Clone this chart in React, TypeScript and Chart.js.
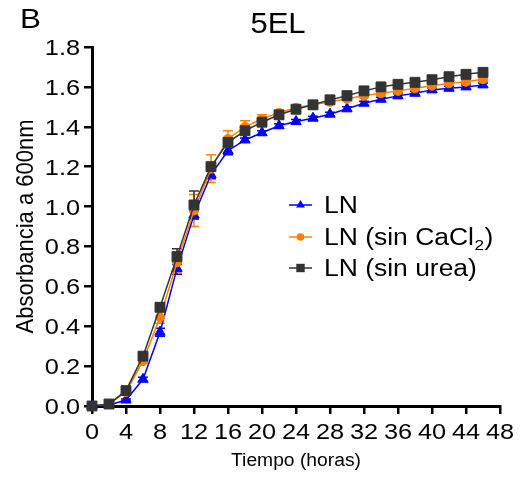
import React, { useEffect, useRef } from 'react';
import { Chart, registerables } from 'chart.js';

Chart.register(...registerables);

const hours = [0, 2, 4, 6, 8, 10, 12, 14, 16, 18, 20, 22, 24, 26, 28, 30, 32, 34, 36, 38, 40, 42, 44, 46];

const lnValues = [0.0, 0.005, 0.03, 0.134, 0.37, 0.69, 0.958, 1.16, 1.28, 1.334, 1.37, 1.405, 1.426, 1.443, 1.463, 1.49, 1.518, 1.538, 1.555, 1.568, 1.585, 1.593, 1.6, 1.61];
const lnErrors = [0.005, 0.005, 0.005, 0.01, 0.02, 0.03, 0.02, 0.02, 0.02, 0.01, 0.01, 0.01, 0.01, 0.01, 0.01, 0.01, 0.01, 0.01, 0.01, 0.01, 0.01, 0.01, 0.01, 0.01];

const caValues = [0.0, 0.01, 0.07, 0.225, 0.445, 0.72, 0.98, 1.19, 1.34, 1.4, 1.44, 1.47, 1.495, 1.51, 1.525, 1.54, 1.555, 1.568, 1.58, 1.593, 1.606, 1.618, 1.626, 1.638];
const caErrors = [0.005, 0.005, 0.01, 0.01, 0.03, 0.05, 0.08, 0.07, 0.04, 0.03, 0.02, 0.01, 0.01, 0.01, 0.01, 0.01, 0.01, 0.01, 0.01, 0.01, 0.01, 0.01, 0.01, 0.01];

const ureaValues = [0.0, 0.01, 0.077, 0.25, 0.495, 0.749, 1.008, 1.2, 1.322, 1.38, 1.423, 1.46, 1.488, 1.51, 1.535, 1.556, 1.58, 1.6, 1.613, 1.623, 1.636, 1.651, 1.663, 1.673];
const ureaErrors = [0.005, 0.005, 0.01, 0.01, 0.02, 0.04, 0.07, 0.02, 0.02, 0.01, 0.01, 0.01, 0.01, 0.01, 0.01, 0.01, 0.01, 0.01, 0.01, 0.01, 0.01, 0.01, 0.01, 0.01];

const xTickValues = [0, 4, 8, 12, 16, 20, 24, 28, 32, 36, 40, 44, 48];
const yTickValues = [0, 0.2, 0.4, 0.6, 0.8, 1.0, 1.2, 1.4, 1.6, 1.8];
const xTickLabels = xTickValues.map((v) => String(v));
const yTickLabels = yTickValues.map((v) => v.toFixed(1));

const panelLetter = 'B';
const chartTitle = '5EL';
const xTitle = 'Tiempo (horas)';
const yTitle = 'Absorbancia a 600nm';

const FONT = '"Liberation Sans", Arial, Helvetica, sans-serif';
const BLUE = '#0000ff';
const ORANGE = '#ff8000';
const DARK = '#333333';
const STRETCH = 1.15;

const seriesList = [
  { label: 'LN', values: lnValues, errors: lnErrors, color: BLUE, style: 'triangle', radius: 6, order: 2 },
  { label: 'LN (sin CaCl2)', values: caValues, errors: caErrors, color: ORANGE, style: 'circle', radius: 4.5, order: 1 },
  { label: 'LN (sin urea)', values: ureaValues, errors: ureaErrors, color: DARK, style: 'rect', radius: 7, order: 0 },
];

const errorBarPlugin = {
  id: 'errorBars',
  beforeDatasetsDraw(chart: any) {
    const ctx = chart.ctx;
    const xs = chart.scales.x;
    const ys = chart.scales.y;
    ctx.save();
    [...chart.data.datasets]
      .sort((a: any, b: any) => b.order - a.order)
      .forEach((d: any) => {
        const errs: number[] = d.errorValues || [];
        ctx.strokeStyle = d.borderColor;
        ctx.lineWidth = 1.5;
        d.data.forEach((pt: any, k: number) => {
          const e = errs[k] || 0;
          if (!e) return;
          const px = xs.getPixelForValue(pt.x);
          const top = ys.getPixelForValue(pt.y + e);
          const bot = ys.getPixelForValue(Math.max(0, pt.y - e));
          ctx.beginPath();
          ctx.moveTo(px, top);
          ctx.lineTo(px, bot);
          ctx.moveTo(px - 5, top);
          ctx.lineTo(px + 5, top);
          ctx.moveTo(px - 5, bot);
          ctx.lineTo(px + 5, bot);
          ctx.stroke();
        });
      });
    ctx.restore();
  },
};

function drawMarker(ctx: CanvasRenderingContext2D, style: string, x: number, y: number, r: number, color: string) {
  ctx.fillStyle = color;
  ctx.beginPath();
  if (style === 'triangle') {
    ctx.moveTo(x, y - r);
    ctx.lineTo(x + r * Math.sin(Math.PI / 3), y + r * 0.5);
    ctx.lineTo(x - r * Math.sin(Math.PI / 3), y + r * 0.5);
    ctx.closePath();
  } else if (style === 'circle') {
    ctx.arc(x, y, r, 0, Math.PI * 2);
  } else {
    const s = r / Math.SQRT2;
    ctx.rect(x - s, y - s, 2 * s, 2 * s);
  }
  ctx.fill();
}

function wideText(ctx: CanvasRenderingContext2D, text: string, x: number, y: number, size: number, align: CanvasTextAlign, sx: number) {
  ctx.save();
  ctx.translate(x, y);
  ctx.scale(sx, 1);
  ctx.font = `${size}px ${FONT}`;
  ctx.textAlign = align;
  ctx.textBaseline = 'alphabetic';
  ctx.fillText(text, 0, 0);
  const w = ctx.measureText(text).width * sx;
  ctx.restore();
  return w;
}

const annotationPlugin = {
  id: 'annotations',
  afterDraw(chart: any) {
    const ctx: CanvasRenderingContext2D = chart.ctx;
    const area = chart.chartArea;
    const xs = chart.scales.x;
    const ys = chart.scales.y;
    ctx.save();
    ctx.fillStyle = '#000';

    // tick labels
    xTickValues.forEach((v, i) => {
      wideText(ctx, xTickLabels[i], xs.getPixelForValue(v), 439, 22, 'center', STRETCH);
    });
    yTickValues.forEach((v, i) => {
      wideText(ctx, yTickLabels[i], 80, ys.getPixelForValue(v) + 8, 22, 'right', STRETCH);
    });

    wideText(ctx, panelLetter, 20, 28, 28, 'left', 1.12);
    wideText(ctx, chartTitle, 278, 33, 29, 'center', 1.07);
    wideText(ctx, xTitle, (area.left + area.right) / 2, 466, 18, 'center', 1.07);

    ctx.save();
    ctx.translate(33, (area.top + area.bottom) / 2);
    ctx.scale(1.08, 1);
    ctx.rotate(-Math.PI / 2);
    ctx.font = `22px ${FONT}`;
    ctx.textAlign = 'center';
    ctx.textBaseline = 'alphabetic';
    ctx.fillText(yTitle, 0, 0);
    ctx.restore();

    // legend
    const rows = [205, 237, 268];
    seriesList.forEach((s, i) => {
      const cy = rows[i];
      ctx.strokeStyle = s.color;
      ctx.lineWidth = 1.5;
      ctx.beginPath();
      ctx.moveTo(289, cy);
      ctx.lineTo(312, cy);
      ctx.stroke();
      drawMarker(ctx, s.style, 300.5, cy, s.radius * 0.85, s.color);
      ctx.fillStyle = '#000';
      const base = cy + 8;
      if (s.label.endsWith('CaCl2)')) {
        const head = s.label.slice(0, s.label.length - 2);
        let x = 324;
        x += wideText(ctx, head, x, base, 23, 'left', STRETCH);
        x += wideText(ctx, '2', x + 0.5, base + 5, 15, 'left', STRETCH);
        wideText(ctx, ')', x + 1, base, 23, 'left', STRETCH);
      } else {
        wideText(ctx, s.label, 324, base, 23, 'left', STRETCH);
      }
    });
    ctx.restore();
  },
};

export default function App() {
  const canvasRef = useRef<HTMLCanvasElement | null>(null);

  useEffect(() => {
    if (!canvasRef.current) return;
    const datasets = seriesList.map((s) => ({
      label: s.label,
      data: hours.map((h, i) => ({ x: h, y: s.values[i] })),
      errorValues: s.errors,
      borderColor: s.color,
      backgroundColor: s.color,
      pointBackgroundColor: s.color,
      pointBorderColor: s.color,
      pointStyle: s.style,
      pointRadius: s.radius,
      pointBorderWidth: 1,
      borderWidth: 1.5,
      tension: 0,
      clip: false as any,
      order: s.order,
    }));

    const chart = new Chart(canvasRef.current, {
      type: 'line',
      data: { datasets: datasets as any },
      options: {
        animation: false,
        responsive: false,
        devicePixelRatio: 1,
        layout: { padding: { left: 0, top: 47, right: 21, bottom: 0 } },
        plugins: {
          legend: { display: false },
          tooltip: { enabled: false },
          title: { display: false },
        },
        scales: {
          x: {
            type: 'linear',
            min: 0,
            max: 48,
            afterBuildTicks: (scale: any) => {
              scale.ticks = xTickValues.map((v) => ({ value: v }));
            },
            afterFit: (scale: any) => {
              scale.height = 72;
            },
            grid: { display: true, drawOnChartArea: false, drawTicks: true, tickLength: 8, lineWidth: 2.5, color: '#000' },
            border: { display: true, width: 3, color: '#000' },
            ticks: { display: false, autoSkip: false },
          },
          y: {
            type: 'linear',
            min: 0,
            max: 1.8,
            afterBuildTicks: (scale: any) => {
              scale.ticks = yTickValues.map((v) => ({ value: v }));
            },
            afterFit: (scale: any) => {
              scale.width = 92;
            },
            grid: { display: true, drawOnChartArea: false, drawTicks: true, tickLength: 8, lineWidth: 2.5, color: '#000' },
            border: { display: true, width: 3, color: '#000' },
            ticks: { display: false, autoSkip: false },
          },
        },
      },
      plugins: [errorBarPlugin, annotationPlugin],
    });
    return () => chart.destroy();
  }, []);

  return (
    <div style={{ position: 'absolute', left: 0, top: 0, width: 521, height: 478, background: '#fff' }}>
      <canvas ref={canvasRef} width={521} height={478} style={{ display: 'block' }} />
    </div>
  );
}
